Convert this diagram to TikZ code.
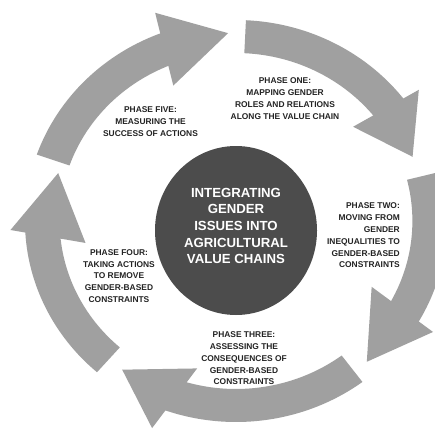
\documentclass[tikz,border=0pt]{standalone}
\usepackage{fontspec}
\setmainfont{Liberation Sans}
\usetikzlibrary{shapes.geometric}
\definecolor{arrowgrey}{RGB}{160,160,160}
\definecolor{hubgrey}{RGB}{76,76,76}
\definecolor{labelgrey}{RGB}{35,35,35}
\tikzset{
  ringpiece/.style={fill=arrowgrey, draw=none},
  phaselabel/.style={font=\bfseries\fontsize{8.4}{11.8}\selectfont, text=labelgrey, align=center, inner sep=0pt},
  hubdisc/.style={ellipse, fill=hubgrey, draw=none, minimum width=162pt, minimum height=169pt, inner sep=0pt},
  hublabel/.style={font=\bfseries\fontsize{13.2}{16.7}\selectfont, text=white, align=center, inner sep=0pt}
}
% tail, outer-barb angle, outer-barb radius, inner-barb angle, inner-barb radius, tip angle, tip radius
\newcommand\phasearc[7]{%
  \pgfmathsetmacro\tend{min(#2,#4)-0.5}%
  \fill[ringpiece] (#1:201) arc[start angle=#1, end angle=\tend, radius=201]
     -- (\tend:168) arc[start angle=\tend, end angle=#1, radius=168] -- cycle;
  \fill[ringpiece] (#2:#3) -- (#6:#7) -- (#4:#5) -- cycle;
}
\begin{document}
\begin{tikzpicture}[x=1pt, y=1pt]
\useasboundingbox (0,0) rectangle (435,429);
\clip (0,0) rectangle (435,429);
\fill[white] (0,0) rectangle (435,429);
\begin{scope}[shift={(236,208)}, xscale=1.05]
  \phasearc{87.3}{37}{218}{40.2}{146}{20.9}{180}
  \phasearc{14.2}{-30.6}{218}{-27}{145}{-48.5}{188}
  \phasearc{-53.2}{-111.1}{222}{-104.1}{152}{-126.1}{184}
  \phasearc{228.8}{182.4}{215}{188.7}{145}{164.2}{176}
  \phasearc{160.7}{110.3}{222}{113.8}{148}{92.3}{188}
\end{scope}
\node[hubdisc] (hub) at (236,198.5) {};
\node[hublabel] (hubtext) at (236,203) {INTEGRATING\\GENDER\\ISSUES INTO\\AGRICULTURAL\\VALUE CHAINS};
\node[phaselabel] (p1) at (285,330.5) {PHASE ONE:\\MAPPING GENDER\\ROLES AND RELATIONS\\ALONG THE VALUE CHAIN};
\node[phaselabel, align=right, anchor=east] (p2) at (400,193.5) {PHASE TWO:\\MOVING FROM\\GENDER\\INEQUALITIES TO\\GENDER-BASED\\CONSTRAINTS};
\node[phaselabel] (p3) at (244,70.5) {PHASE THREE:\\ASSESSING THE\\CONSEQUENCES OF\\GENDER-BASED\\CONSTRAINTS};
\node[phaselabel] (p4) at (119,153) {PHASE FOUR:\\TAKING ACTIONS\\TO REMOVE\\GENDER-BASED\\CONSTRAINTS};
\node[phaselabel] (p5) at (150.5,307.3) {PHASE FIVE:\\MEASURING THE\\SUCCESS OF ACTIONS};
\end{tikzpicture}
\end{document}
